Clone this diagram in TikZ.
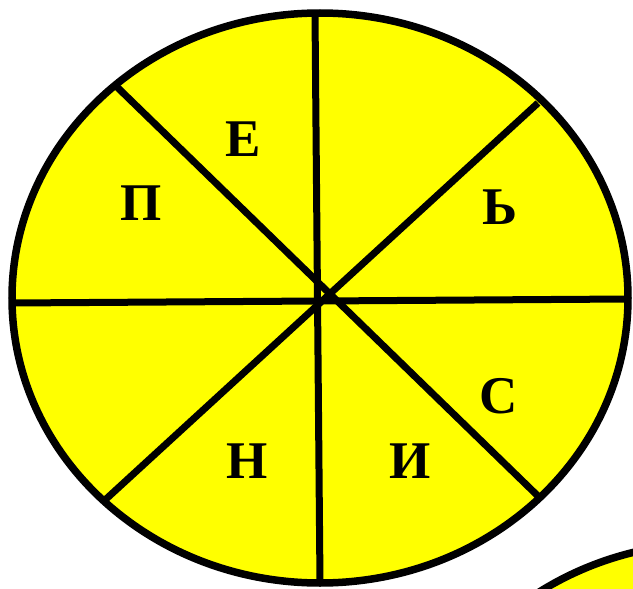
\documentclass[tikz,border=0pt]{standalone}
\usepackage{fontspec}
\setmainfont{Liberation Serif}
\definecolor{diskyellow}{RGB}{255,255,0}
\begin{document}
\begin{tikzpicture}[x=1pt,y=-1pt,
  disk/.style={draw=black,fill=diskyellow,line width=7.5pt},
  spoke/.style={draw=black,line width=7pt},
  letter/.style={inner sep=0pt,font=\fontsize{53}{62}\selectfont\bfseries}]
\useasboundingbox (0,0) rectangle (633,589);
\clip (0,0) rectangle (633,589);
\path[disk] (712,828) ellipse [x radius=308pt, y radius=285pt];
\path[disk] (320,298) ellipse [x radius=308pt, y radius=285pt];
\coordinate (t) at (315,13);
\coordinate (b) at (320,583);
\coordinate (l) at (12,303);
\coordinate (r) at (628,299);
\coordinate (tl) at (117,87);
\coordinate (br) at (540,498);
\coordinate (tr) at (538,103);
\coordinate (bl) at (105,500);
\draw[spoke] (t) -- (b);
\draw[spoke] (l) -- (r);
\draw[spoke] (tl) -- (br);
\draw[spoke] (tr) -- (bl);
\node[letter] (e) at (243.5,139) {Е};
\node[letter] (p) at (141.5,203) {П};
\node[letter] (soft) at (500,207) {Ь};
\node[letter] (s) at (499,396) {С};
\node[letter] (i) at (410,461) {И};
\node[letter] (n) at (247,461) {Н};
\end{tikzpicture}
\end{document}
